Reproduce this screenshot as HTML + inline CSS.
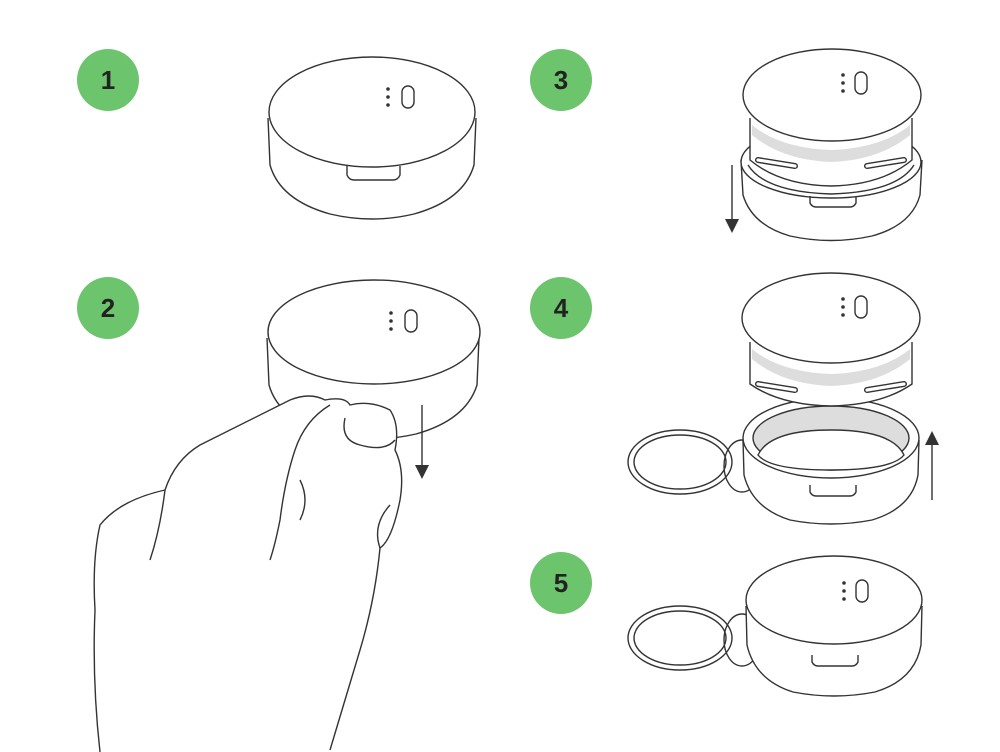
<!DOCTYPE html>
<html><head><meta charset="utf-8"><style>
html,body{margin:0;padding:0;background:#fff;}
svg{display:block}
text{font-family:"Liberation Sans",sans-serif;font-weight:bold;font-size:26px;fill:#222;}
</style></head><body>
<svg width="1000" height="752" viewBox="0 0 1000 752" xmlns="http://www.w3.org/2000/svg">
<defs>
<marker id="ah" markerWidth="10" markerHeight="10" refX="5" refY="5" orient="auto">
<path d="M0,0 L10,5 L0,10 z" fill="#333"/></marker>
</defs>
<g fill="#6cc46c">
<circle cx="108" cy="80" r="31"/><circle cx="108" cy="308" r="31"/>
<circle cx="561" cy="80" r="31"/><circle cx="561" cy="308" r="31"/>
<circle cx="561" cy="583" r="31"/>
</g>
<g text-anchor="middle">
<text x="108" y="89">1</text><text x="108" y="317">2</text>
<text x="561" y="89">3</text><text x="561" y="317">4</text><text x="561" y="592">5</text>
</g>
<g fill="none" stroke="#333" stroke-width="1.4">
<!-- Device 1 -->
<path d="M268,118 L270,165 Q280,200 330,214 Q372,224 414,214 Q464,200 474,165 L476,118" fill="#fff"/>
<ellipse cx="372" cy="112" rx="103" ry="55" fill="#fff"/>
<path d="M347,166 L347,175 Q349,180 354,180 L393,180 Q398,180 400,175 L400,166"/>
<rect x="402" y="86" width="12" height="22" rx="6"/>
<!-- Device 2 -->
<path d="M267,338 L269,385 Q279,420 329,434 Q372,444 416,434 Q466,420 477,385 L479,338" fill="#fff"/>
<ellipse cx="374" cy="332" rx="106" ry="52" fill="#fff"/>
<rect x="405" y="310" width="12" height="22" rx="6"/>
<!-- hand -->
<path d="M100,752 Q92,680 95,610 Q92,560 100,525 Q120,500 165,490 Q175,460 200,445 Q240,425 290,400 Q310,392 325,400 Q345,396 350,405 Q370,400 390,410 Q400,425 395,450 Q405,470 400,500 Q392,540 380,548 Q372,525 390,505" fill="#fff"/>
<path d="M345,418 Q340,440 360,445 Q385,452 395,440"/>
<path d="M330,405 Q305,420 295,450 Q285,480 280,520 Q275,545 270,560"/>
<path d="M165,490 Q160,530 150,560"/>
<path d="M300,480 Q310,500 300,520"/>
<path d="M330,750 Q345,700 360,650 Q375,600 380,548"/>
<!-- Device 3 -->
<path d="M741,160 L743,195 Q752,225 790,236 Q831,245 872,236 Q912,225 920,195 L922,160" fill="#fff"/>
<ellipse cx="831" cy="162" rx="90" ry="36" fill="#fff"/>
<path d="M748,165 Q765,192 831,194 Q897,192 914,165"/>
<path d="M810,196 L810,203 Q812,207 816,207 L850,207 Q854,207 856,203 L856,196"/>
<path d="M750,118 L750,160 Q780,185 831,186 Q882,185 912,160 L912,118" fill="#fff"/>
<path d="M752,125 Q780,148 831,150 Q882,148 910,125 L910,135 Q880,160 831,162 Q782,160 752,135 z" fill="#ddd" stroke="none"/>
<path d="M758,160 L795,166 M904,160 L867,166" stroke-width="6" stroke-linecap="round"/>
<path d="M758,160 L795,166 M904,160 L867,166" stroke="#fff" stroke-width="3.2" stroke-linecap="round"/>
<ellipse cx="832" cy="95" rx="89" ry="46" fill="#fff"/>
<rect x="855" y="72" width="12" height="22" rx="6"/>
<line x1="732" y1="165" x2="732" y2="226" marker-end="url(#ah)"/>
<!-- Device 4 -->
<ellipse cx="680" cy="462" rx="52" ry="32"/><ellipse cx="680" cy="462" rx="46" ry="27"/>
<ellipse cx="742" cy="466" rx="18" ry="26"/>
<path d="M743,440 L744,475 Q752,508 790,520 Q831,528 872,520 Q912,508 918,475 L919,440" fill="#fff"/>
<ellipse cx="831" cy="438" rx="88" ry="40" fill="#fff"/>
<ellipse cx="831" cy="438" rx="78" ry="32" fill="#ddd"/>
<path d="M758,455 Q770,430 831,430 Q892,430 904,455 Q892,470 831,470 Q770,470 758,455 z" fill="#fff"/>
<path d="M810,485 L810,492 Q812,496 816,496 L850,496 Q854,496 856,492 L856,485"/>
<path d="M750,342 L750,384 Q780,405 831,406 Q882,405 912,384 L912,342" fill="#fff"/>
<path d="M752,349 Q780,372 831,374 Q882,372 910,349 L910,359 Q880,384 831,386 Q782,384 752,359 z" fill="#ddd" stroke="none"/>
<path d="M758,384 L795,390 M904,384 L867,390" stroke-width="6" stroke-linecap="round"/>
<path d="M758,384 L795,390 M904,384 L867,390" stroke="#fff" stroke-width="3.2" stroke-linecap="round"/>
<ellipse cx="831" cy="318" rx="89" ry="45" fill="#fff"/>
<rect x="855" y="296" width="12" height="22" rx="6"/>
<line x1="932" y1="500" x2="932" y2="438" marker-end="url(#ah)"/>
<!-- Device 5 -->
<ellipse cx="680" cy="638" rx="52" ry="32"/><ellipse cx="680" cy="638" rx="46" ry="27"/>
<ellipse cx="742" cy="640" rx="18" ry="26"/>
<path d="M746,606 L747,645 Q755,680 793,692 Q834,700 875,692 Q915,680 921,645 L922,606" fill="#fff"/>
<ellipse cx="834" cy="600" rx="88" ry="44" fill="#fff"/>
<path d="M812,655 L812,662 Q814,666 818,666 L852,666 Q856,666 858,662 L858,655"/>
<rect x="856" y="580" width="12" height="22" rx="6"/>
<line x1="422" y1="405" x2="422" y2="472" marker-end="url(#ah)"/>
</g>
<g fill="#333">
<circle cx="388" cy="89" r="1.8"/><circle cx="388" cy="97" r="1.8"/><circle cx="388" cy="105" r="1.8"/>
<circle cx="391" cy="313" r="1.8"/><circle cx="391" cy="321" r="1.8"/><circle cx="391" cy="329" r="1.8"/>
<circle cx="843" cy="75" r="1.8"/><circle cx="843" cy="83" r="1.8"/><circle cx="843" cy="91" r="1.8"/>
<circle cx="843" cy="299" r="1.8"/><circle cx="843" cy="307" r="1.8"/><circle cx="843" cy="315" r="1.8"/>
<circle cx="844" cy="583" r="1.8"/><circle cx="844" cy="591" r="1.8"/><circle cx="844" cy="599" r="1.8"/>
</g>
</svg>
</body></html>
